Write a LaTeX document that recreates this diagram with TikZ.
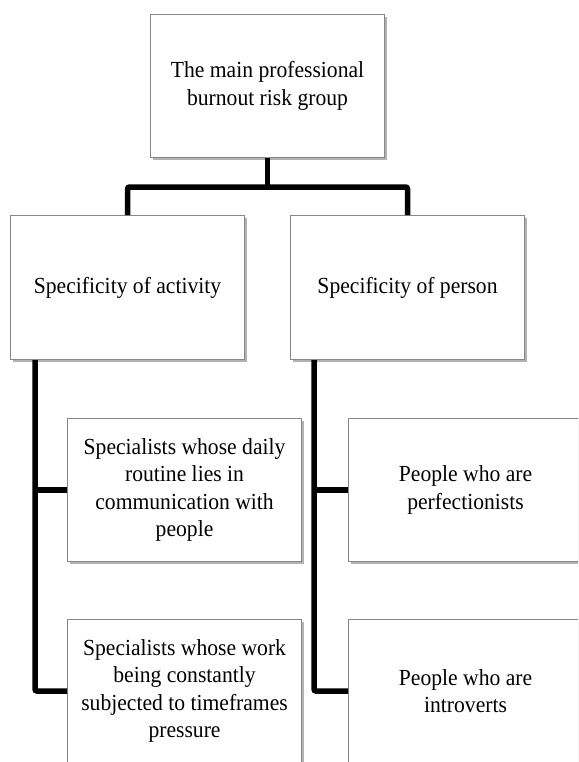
\documentclass[tikz,border=0pt]{standalone}
\usepackage{fontspec}
\setmainfont{Liberation Serif}[FakeStretch=0.94]
\usetikzlibrary{shadows}
\begin{document}
\begin{tikzpicture}[x=1pt,y=-1pt,
  box/.style={rectangle, draw={rgb,255:red,135;green,135;blue,135}, line width=1.1pt,
    fill=white, minimum width=234pt, minimum height=143pt, inner sep=0pt,
    align=center, anchor=north west,
    font=\fontsize{23}{27.5}\selectfont,
    drop shadow={shadow xshift=2pt, shadow yshift=-2.5pt, opacity=0.3, fill=black}},
  conn/.style={draw=black, line width=5.5pt, rounded corners=2pt}]
\useasboundingbox (0,0) rectangle (578,762);
\clip (0,0) rectangle (578,762);
\fill[white] (0,0) rectangle (578,762);
% coordinates
\coordinate (bar) at (0,187);
\coordinate (lx) at (35,0);
\coordinate (rx) at (314,0);
% boxes
\node[box] (top) at (150,14) {The main professional\\burnout risk group};
\node[box, minimum height=144pt] (act) at (10,215) {Specificity of activity};
\node[box, minimum height=144pt] (per) at (290,215) {Specificity of person};
\node[box] (c1) at (67,418) {Specialists whose daily\\routine lies in\\communication with\\people};
\node[box] (c2) at (67,619) {Specialists whose work\\being constantly\\subjected to timeframes\\pressure};
\node[box] (r1) at (348,418) {People who are\\perfectionists};
\node[box] (r2) at (348,619) {People who are\\introverts};
% connectors
\draw[conn] (top.south) -- (top.south |- bar);
\draw[conn] (act.north) -- (act.north |- bar) -- (per.north |- bar) -- (per.north);
\draw[conn] (act.south -| lx) -- (lx |- c2.west) -- (c2.west);
\draw[conn] (lx |- c1.west) -- (c1.west);
\draw[conn] (per.south -| rx) -- (rx |- r2.west) -- (r2.west);
\draw[conn] (rx |- r1.west) -- (r1.west);
\end{tikzpicture}
\end{document}
